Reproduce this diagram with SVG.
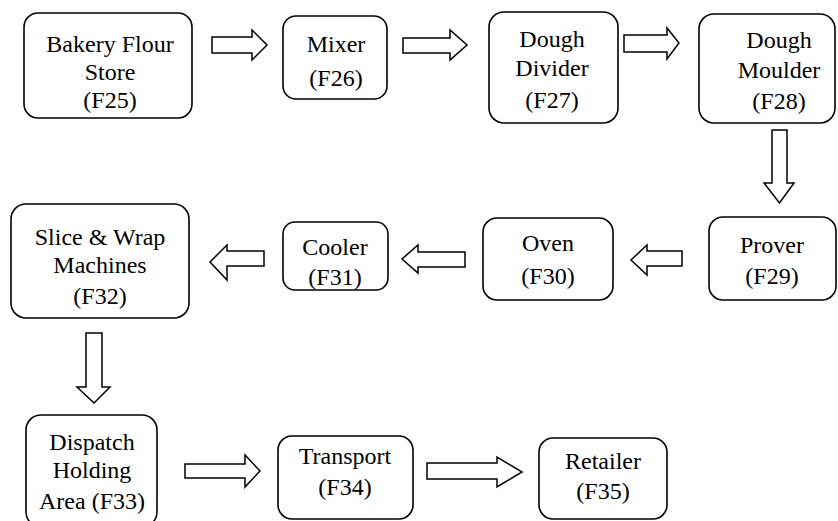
<svg xmlns="http://www.w3.org/2000/svg" width="838" height="521" viewBox="0 0 838 521">
<rect width="838" height="521" fill="#fff"/>
<g id="connectors" fill="#fff" stroke="#000" stroke-width="1.5" stroke-linejoin="miter">
<polygon points="212,37 252,37 252,30 267,45 252,60 252,53 212,53"/>
<polygon points="403,38 450,38 450,30 467,45 450,60 450,53 403,53"/>
<polygon points="624,35 667,35 667,28 679,43 667,59 667,52 624,52"/>
<polygon points="772,130 787,130 787,183 794,183 779.5,203 764,183 772,183"/>
<polygon points="682,251 647,251 647,245 631,260 647,275 647,266 682,266"/>
<polygon points="465,252 418,252 418,245 402,259 418,273 418,267 465,267"/>
<polygon points="264,251 227,251 227,245 210,262 227,280 227,266 264,266"/>
<polygon points="86,333 102,333 102,387 110,387 94,403 77,387 86,387"/>
<polygon points="185,464 245,464 245,455 260,471 245,487 245,478 185,478"/>
<polygon points="427,463 497,463 497,457 522,472 497,487 497,479 427,479"/>
</g>
<g id="F25"><rect fill="#fff" stroke="#000" stroke-width="1.6" x="24" y="13" width="168" height="105" rx="14"/>
<text font-family="Liberation Serif" font-size="24" text-anchor="middle" x="110" y="52">Bakery Flour</text>
<text font-family="Liberation Serif" font-size="24" text-anchor="middle" x="110" y="80">Store</text>
<text font-family="Liberation Serif" font-size="24" text-anchor="middle" x="110" y="108">(F25)</text></g>
<g id="F26"><rect fill="#fff" stroke="#000" stroke-width="1.6" x="283" y="16" width="104" height="83" rx="13"/>
<text font-family="Liberation Serif" font-size="24" text-anchor="middle" x="336" y="52">Mixer</text>
<text font-family="Liberation Serif" font-size="24" text-anchor="middle" x="336" y="86">(F26)</text></g>
<g id="F27"><rect fill="#fff" stroke="#000" stroke-width="1.6" x="489" y="12" width="129" height="111" rx="15"/>
<text font-family="Liberation Serif" font-size="24" text-anchor="middle" x="552" y="47">Dough</text>
<text font-family="Liberation Serif" font-size="24" text-anchor="middle" x="552" y="76">Divider</text>
<text font-family="Liberation Serif" font-size="24" text-anchor="middle" x="552" y="108">(F27)</text></g>
<g id="F28"><rect fill="#fff" stroke="#000" stroke-width="1.6" x="699" y="14" width="136" height="109" rx="15"/>
<text font-family="Liberation Serif" font-size="24" text-anchor="middle" x="779" y="48">Dough</text>
<text font-family="Liberation Serif" font-size="24" text-anchor="middle" x="779" y="78">Moulder</text>
<text font-family="Liberation Serif" font-size="24" text-anchor="middle" x="779" y="109">(F28)</text></g>
<g id="F29"><rect fill="#fff" stroke="#000" stroke-width="1.6" x="709" y="217" width="127" height="83" rx="14"/>
<text font-family="Liberation Serif" font-size="24" text-anchor="middle" x="772" y="253">Prover</text>
<text font-family="Liberation Serif" font-size="24" text-anchor="middle" x="772" y="284">(F29)</text></g>
<g id="F30"><rect fill="#fff" stroke="#000" stroke-width="1.6" x="483" y="218" width="130" height="82" rx="14"/>
<text font-family="Liberation Serif" font-size="24" text-anchor="middle" x="548" y="251">Oven</text>
<text font-family="Liberation Serif" font-size="24" text-anchor="middle" x="548" y="284">(F30)</text></g>
<g id="F31"><rect fill="#fff" stroke="#000" stroke-width="1.6" x="283" y="222" width="105" height="68" rx="12"/>
<text font-family="Liberation Serif" font-size="24" text-anchor="middle" x="335" y="255">Cooler</text>
<text font-family="Liberation Serif" font-size="24" text-anchor="middle" x="335" y="285">(F31)</text></g>
<g id="F32"><rect fill="#fff" stroke="#000" stroke-width="1.6" x="11" y="204" width="178" height="114" rx="15"/>
<text font-family="Liberation Serif" font-size="24" text-anchor="middle" x="100" y="245">Slice &amp; Wrap</text>
<text font-family="Liberation Serif" font-size="24" text-anchor="middle" x="100" y="273">Machines</text>
<text font-family="Liberation Serif" font-size="24" text-anchor="middle" x="100" y="304">(F32)</text></g>
<g id="F33"><rect fill="#fff" stroke="#000" stroke-width="1.6" x="26" y="415" width="131" height="112" rx="15"/>
<text font-family="Liberation Serif" font-size="24" text-anchor="middle" x="92" y="450">Dispatch</text>
<text font-family="Liberation Serif" font-size="24" text-anchor="middle" x="92" y="478">Holding</text>
<text font-family="Liberation Serif" font-size="24" text-anchor="middle" x="92" y="509">Area (F33)</text></g>
<g id="F34"><rect fill="#fff" stroke="#000" stroke-width="1.6" x="278" y="436" width="135" height="83" rx="14"/>
<text font-family="Liberation Serif" font-size="24" text-anchor="middle" x="345" y="464">Transport</text>
<text font-family="Liberation Serif" font-size="24" text-anchor="middle" x="345" y="495">(F34)</text></g>
<g id="F35"><rect fill="#fff" stroke="#000" stroke-width="1.6" x="539" y="438" width="128" height="81" rx="14"/>
<text font-family="Liberation Serif" font-size="24" text-anchor="middle" x="603" y="469">Retailer</text>
<text font-family="Liberation Serif" font-size="24" text-anchor="middle" x="603" y="499">(F35)</text></g>
</svg>
